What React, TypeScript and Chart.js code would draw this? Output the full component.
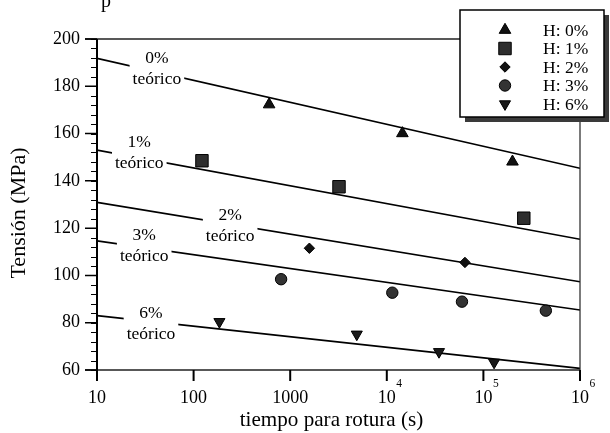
import React, { useEffect, useRef } from 'react';
import { Chart, registerables } from 'chart.js';
import { drawPoint } from 'chart.js/helpers';

Chart.register(...registerables);

// Measured rupture tests: time to rupture (s) and applied stress (MPa)
const tH0 = [605, 14500, 200000];
const sH0 = [172.3, 160.1, 148.1];
const tH1 = [122, 3200, 262000];
const sH1 = [148.5, 137.5, 124.2];
const tH2 = [1580, 64400];
const sH2 = [111.5, 105.5];
const tH3 = [805, 11400, 60000, 443000];
const sH3 = [98.4, 92.7, 88.9, 85.1];
const tH6 = [185, 4890, 34700, 129000];
const sH6 = [80.4, 75.1, 67.7, 63.2];

const seriesLabels = ['H: 0%', 'H: 1%', 'H: 2%', 'H: 3%', 'H: 6%'];

// Theoretical curves: stress at t = 10 s and at t = 1e6 s
const theoryNames = ['0%', '1%', '2%', '3%', '6%'];
const theoryTStart = 10;
const theoryTEnd = 1e6;
const theoryAtStart = [191.8, 153.0, 130.9, 114.6, 83.0];
const theoryAtEnd = [145.3, 115.3, 97.3, 85.4, 60.7];
// anchor (time, stress) of the "teórico" caption of each curve
const theoryLabelT = [41.7, 27.4, 239, 30.8, 36.2];
const theoryLabelS = [182.7, 147.5, 116.7, 107.9, 75.2];

// Axis ticks
const xTicks = [10, 100, 1000, 1e4, 1e5, 1e6];
const xTickBase = ['10', '100', '1000', '10', '10', '10'];
const xTickExp = ['', '', '', '4', '5', '6'];
const yMajor = [60, 80, 100, 120, 140, 160, 180, 200];
const yMinorStep = 4;

const xTitle = 'tiempo para rotura (s)';
const yTitle = 'Tensión (MPa)';

const FONT = '"Liberation Serif", "Times New Roman", serif';

const markerStyles = [
  { pointStyle: 'triangle', rotation: 0, radius: 6.7, fill: '#111' },
  { pointStyle: 'rect', rotation: 0, radius: 8.8, fill: '#2e2e2e' },
  { pointStyle: 'rectRot', rotation: 0, radius: 5.2, fill: '#111' },
  { pointStyle: 'circle', rotation: 0, radius: 5.7, fill: '#333' },
  { pointStyle: 'triangle', rotation: 180, radius: 6.4, fill: '#1a1a1a' },
];

const seriesT = [tH0, tH1, tH2, tH3, tH6];
const seriesS = [sH0, sH1, sH2, sH3, sH6];

function txt(
  ctx: CanvasRenderingContext2D,
  s: string,
  x: number,
  y: number,
  size: number,
  align: CanvasTextAlign = 'center',
  baseline: CanvasTextBaseline = 'middle',
  sx = 1
) {
  ctx.save();
  ctx.translate(x, y);
  ctx.scale(sx, 1);
  ctx.font = `${size}px ${FONT}`;
  ctx.textAlign = align;
  ctx.textBaseline = baseline;
  ctx.fillStyle = '#000';
  ctx.fillText(s, 0, 0);
  ctx.restore();
}

const figurePlugin = {
  id: 'figureDecor',
  afterDatasetsDraw(chart: any) {
    const { ctx } = chart;
    const x = chart.scales.x;
    const y = chart.scales.y;
    // captions of the theoretical curves, on a white patch that breaks the line
    theoryNames.forEach((name, i) => {
      const cx = x.getPixelForValue(theoryLabelT[i]);
      const cy = y.getPixelForValue(theoryLabelS[i]);
      ctx.save();
      ctx.font = `17.5px ${FONT}`;
      const w = ctx.measureText('teórico').width;
      ctx.fillStyle = '#fff';
      ctx.fillRect(cx - w / 2 - 3, cy - 31, w + 6, 41);
      ctx.restore();
      txt(ctx, name, cx, cy - 21, 17.5);
      txt(ctx, 'teórico', cx, cy, 17.5);
    });
  },
  afterDraw(chart: any) {
    const { ctx, chartArea } = chart;
    const x = chart.scales.x;
    const y = chart.scales.y;
    const { left, right, top, bottom } = chartArea;

    ctx.save();
    ctx.lineCap = 'butt';
    // frame
    ctx.strokeStyle = '#222';
    ctx.lineWidth = 1.5;
    ctx.beginPath();
    ctx.moveTo(left - 12, top);
    ctx.lineTo(right, top);
    ctx.moveTo(left - 12, bottom);
    ctx.lineTo(right, bottom);
    ctx.stroke();
    ctx.lineWidth = 1.2;
    ctx.beginPath();
    ctx.moveTo(right, top);
    ctx.lineTo(right, bottom);
    ctx.stroke();
    ctx.strokeStyle = '#000';
    ctx.lineWidth = 2;
    ctx.beginPath();
    ctx.moveTo(left, top);
    ctx.lineTo(left, bottom + 11);
    ctx.stroke();

    // y ticks
    ctx.lineWidth = 1;
    ctx.beginPath();
    for (let v = yMajor[0]; v <= yMajor[yMajor.length - 1]; v += yMinorStep) {
      const py = Math.round(y.getPixelForValue(v)) + 0.5;
      ctx.moveTo(left - 6, py);
      ctx.lineTo(left, py);
    }
    ctx.stroke();
    ctx.lineWidth = 1.5;
    ctx.beginPath();
    yMajor.forEach((v) => {
      const py = y.getPixelForValue(v);
      ctx.moveTo(left - 12, py);
      ctx.lineTo(left, py);
    });
    ctx.stroke();

    // x ticks
    ctx.lineWidth = 2;
    ctx.beginPath();
    xTicks.forEach((v) => {
      const px = x.getPixelForValue(v);
      ctx.moveTo(px, bottom);
      ctx.lineTo(px, bottom + 11);
    });
    ctx.stroke();
    ctx.restore();

    // tick labels
    yMajor.forEach((v) => {
      txt(ctx, String(v), left - 17, y.getPixelForValue(v), 18, 'right', 'middle');
    });
    xTicks.forEach((v, i) => {
      const px = x.getPixelForValue(v);
      txt(ctx, xTickBase[i], px, bottom + 33, 18, 'center', 'alphabetic');
      if (xTickExp[i]) {
        ctx.save();
        ctx.font = `18px ${FONT}`;
        const bw = ctx.measureText(xTickBase[i]).width;
        ctx.restore();
        txt(ctx, xTickExp[i], px + bw / 2 + 0.5, bottom + 17, 11.5, 'left', 'alphabetic');
      }
    });

    // axis titles
    txt(ctx, xTitle, (left + right) / 2 - 7, 426, 22, 'center', 'alphabetic', 0.96);
    ctx.save();
    ctx.translate(25, 213);
    ctx.rotate(-Math.PI / 2);
    txt(ctx, yTitle, 0, 0, 22, 'center', 'alphabetic');
    ctx.restore();

    // legend with drop shadow
    const lx = 460, ly = 10, lw = 144, lh = 107;
    ctx.save();
    ctx.fillStyle = '#3a3a3a';
    ctx.fillRect(lx + 5, ly + 5, lw, lh);
    ctx.fillStyle = '#fff';
    ctx.fillRect(lx, ly, lw, lh);
    ctx.strokeStyle = '#000';
    ctx.lineWidth = 1.5;
    ctx.strokeRect(lx, ly, lw, lh);
    ctx.restore();
    seriesLabels.forEach((label, i) => {
      const ry = ly + 20 + i * 18.5;
      const m = markerStyles[i];
      ctx.save();
      ctx.fillStyle = m.fill;
      ctx.strokeStyle = '#000';
      ctx.lineWidth = 1;
      drawPoint(ctx, { pointStyle: m.pointStyle, rotation: m.rotation, radius: m.radius, borderWidth: 1 } as any, 505, ry);
      ctx.restore();
      txt(ctx, label, 543, ry + 1, 17.5, 'left', 'middle');
    });

    // descender of a line of text above the figure
    txt(ctx, 'p', 106, 7, 20, 'center', 'alphabetic');
  },
};

export default function App() {
  const ref = useRef<HTMLCanvasElement>(null);

  useEffect(() => {
    document.body.style.margin = '0';
    const lineSets = theoryNames.map((name, i) => ({
      type: 'line' as const,
      label: `${name} teórico`,
      data: [
        { x: theoryTStart, y: theoryAtStart[i] },
        { x: theoryTEnd, y: theoryAtEnd[i] },
      ],
      borderColor: '#000',
      borderWidth: 1.6,
      pointRadius: 0,
      fill: false,
      order: 2,
    }));
    const pointSets = seriesLabels.map((label, i) => ({
      type: 'scatter' as const,
      label,
      data: seriesT[i].map((t, j) => ({ x: t, y: seriesS[i][j] })),
      pointStyle: markerStyles[i].pointStyle,
      rotation: markerStyles[i].rotation,
      radius: markerStyles[i].radius,
      backgroundColor: markerStyles[i].fill,
      borderColor: '#000',
      borderWidth: 1,
      showLine: false,
      order: 1,
    }));

    const chart = new Chart(ref.current as HTMLCanvasElement, {
      type: 'scatter',
      data: { datasets: [...lineSets, ...pointSets] as any },
      options: {
        animation: false,
        responsive: false,
        events: [],
        layout: { padding: { left: 0, right: 30, top: 39, bottom: 0 } },
        plugins: { legend: { display: false }, tooltip: { enabled: false } },
        scales: {
          x: {
            type: 'logarithmic',
            min: 10,
            max: 1e6,
            grid: { display: false },
            border: { display: false },
            ticks: { display: false },
            afterFit: (s: any) => {
              s.height = 63;
            },
          },
          y: {
            type: 'linear',
            min: 60,
            max: 200,
            grid: { display: false },
            border: { display: false },
            ticks: { display: false },
            afterFit: (s: any) => {
              s.width = 97;
            },
          },
        },
      },
      plugins: [figurePlugin],
    });
    return () => chart.destroy();
  }, []);

  return (
    <div style={{ position: 'absolute', left: 0, top: 0, width: 610, height: 433, background: '#fff' }}>
      <canvas ref={ref} width={610} height={433} />
    </div>
  );
}
